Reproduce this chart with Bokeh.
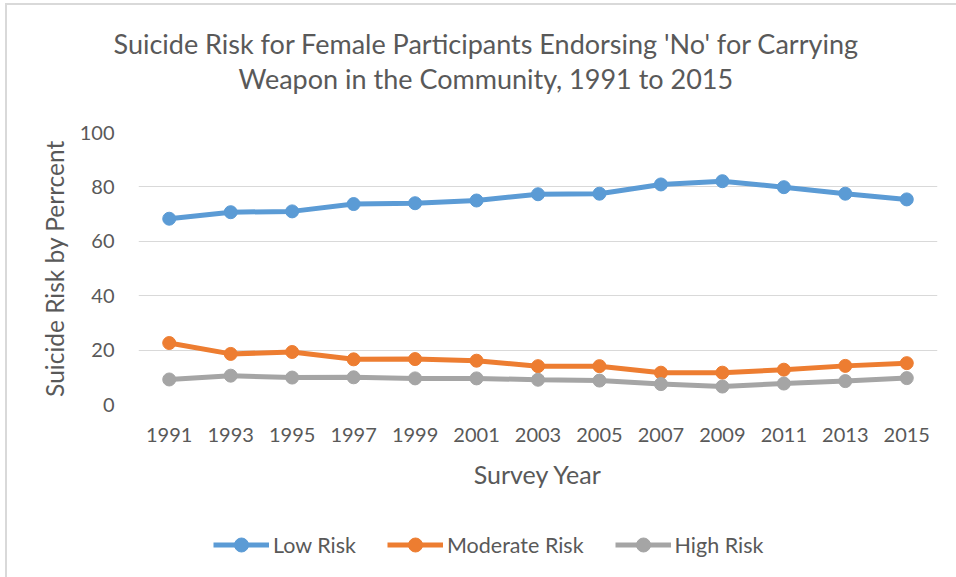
from bokeh.plotting import figure
from bokeh.layouts import column
from bokeh.models import FactorRange, Range1d, Title, Legend, LegendItem, SingleIntervalTicker
from bokeh.embed import file_html
from bokeh.resources import INLINE

years = ["1991", "1993", "1995", "1997", "1999", "2001", "2003",
         "2005", "2007", "2009", "2011", "2013", "2015"]
low_risk = [68.3, 70.7, 71.0, 73.7, 74.0, 75.0, 77.3, 77.5, 80.9, 82.1, 79.9, 77.5, 75.4]
moderate_risk = [22.6, 18.6, 19.3, 16.6, 16.7, 16.1, 14.1, 14.1, 11.7, 11.7, 12.8, 14.2, 15.2]
high_risk = [9.2, 10.6, 9.9, 10.0, 9.6, 9.6, 9.1, 8.8, 7.5, 6.6, 7.7, 8.6, 9.7]

series_names = ["Low Risk", "Moderate Risk", "High Risk"]
colors = ["#5B9BD5", "#ED7D31", "#A5A5A5"]

title_lines = ["Suicide Risk for Female Participants Endorsing 'No' for Carrying",
               "Weapon in the Community, 1991 to 2015"]
x_title = "Survey Year"
y_title = "Suicide Risk by Perrcent"

FONT = "Lato"
TXT = "#595959"
BORDER_LT = ("linear-gradient(#D9D9D9, #D9D9D9) 5px 3px / 2px 100% no-repeat, "
             "linear-gradient(#D9D9D9, #D9D9D9) 5px 3px / 100% 2px no-repeat, white")
BORDER_L = "linear-gradient(#D9D9D9, #D9D9D9) 5px 0px / 2px 100% no-repeat, white"

H1 = 505
p = figure(width=956, height=H1,
           x_range=FactorRange(factors=years, range_padding=0),
           y_range=Range1d(0, 100), output_backend="svg", toolbar_location=None,
           min_border_left=138, min_border_right=19, min_border_top=132,
           min_border_bottom=H1 - 404)
p.title = None
p.outline_line_color = None
p.background_fill_color = "white"
p.border_fill_alpha = 0
p.styles = {"background": BORDER_LT}

p.yaxis.ticker = SingleIntervalTicker(interval=20)
p.ygrid.ticker = SingleIntervalTicker(interval=20)
p.xgrid.grid_line_color = None
p.ygrid.grid_line_color = "#D9D9D9"
p.ygrid.grid_line_width = 1

for ax in (p.xaxis[0], p.yaxis[0]):
    ax.axis_line_color = None
    ax.major_tick_line_color = None
    ax.minor_tick_line_color = None
    ax.major_label_text_font = FONT
    ax.major_label_text_font_size = "20px"
    ax.major_label_text_color = TXT
    ax.axis_label_text_font = FONT
    ax.axis_label_text_color = TXT
    ax.axis_label_text_font_style = "normal"

p.xaxis.axis_label_text_font_size = "25px"
p.yaxis.axis_label_text_font_size = "24.5px"
p.yaxis.major_label_standoff = 18
p.xaxis.major_label_standoff = 17
p.xaxis.axis_label = x_title
p.yaxis.axis_label = y_title
p.xaxis.axis_label_standoff = 14
p.yaxis.axis_label_standoff = 8

for name, vals, c in zip(series_names, [low_risk, moderate_risk, high_risk], colors):
    p.line(years, vals, line_color=c, line_width=5)
    p.scatter(years, vals, size=13, fill_color=c, line_color=c)

# spacer closest to the plot, then second title line, then first line
p.add_layout(Title(text=" ", text_font_size="1px", standoff=35), "above")
p.add_layout(Title(text=title_lines[1], align="left", offset=100, standoff=0,
                   text_font=FONT, text_font_size="27px", text_color=TXT,
                   text_font_style="normal"), "above")
p.add_layout(Title(text=title_lines[0], align="left", offset=-25, standoff=0,
                   text_font=FONT, text_font_size="27px", text_color=TXT,
                   text_font_style="normal"), "above")

# legend strip below the chart (its frame is aligned with the chart's frame)
H2 = 577 - H1
pl = figure(width=956, height=H2, x_range=Range1d(0, 1), y_range=Range1d(0, 1),
            output_backend="svg", toolbar_location=None,
            min_border_left=0, min_border_right=0, min_border_top=0, min_border_bottom=0)
pl.title = None
pl.axis.visible = False
pl.grid.visible = False
pl.outline_line_color = None
pl.background_fill_alpha = 0
pl.border_fill_alpha = 0
pl.styles = {"background": BORDER_L}

nan = float("nan")
items = []
for name, c in zip(series_names, colors):
    l = pl.line([nan], [nan], line_color=c, line_width=5)
    s = pl.scatter([nan], [nan], size=13, fill_color=c, line_color=c)
    items.append(LegendItem(label=name, renderers=[l, s]))

legend = Legend(items=items, orientation="horizontal", location=(75, 15),
                glyph_width=56, glyph_height=35, label_standoff=4, spacing=31,
                padding=0, margin=0, border_line_color=None, background_fill_alpha=0,
                label_text_font=FONT, label_text_font_size="21.5px", label_text_color=TXT)
pl.add_layout(legend)

layout = column(p, pl, spacing=0)
open("out.html", "w").write(file_html(layout, INLINE))
